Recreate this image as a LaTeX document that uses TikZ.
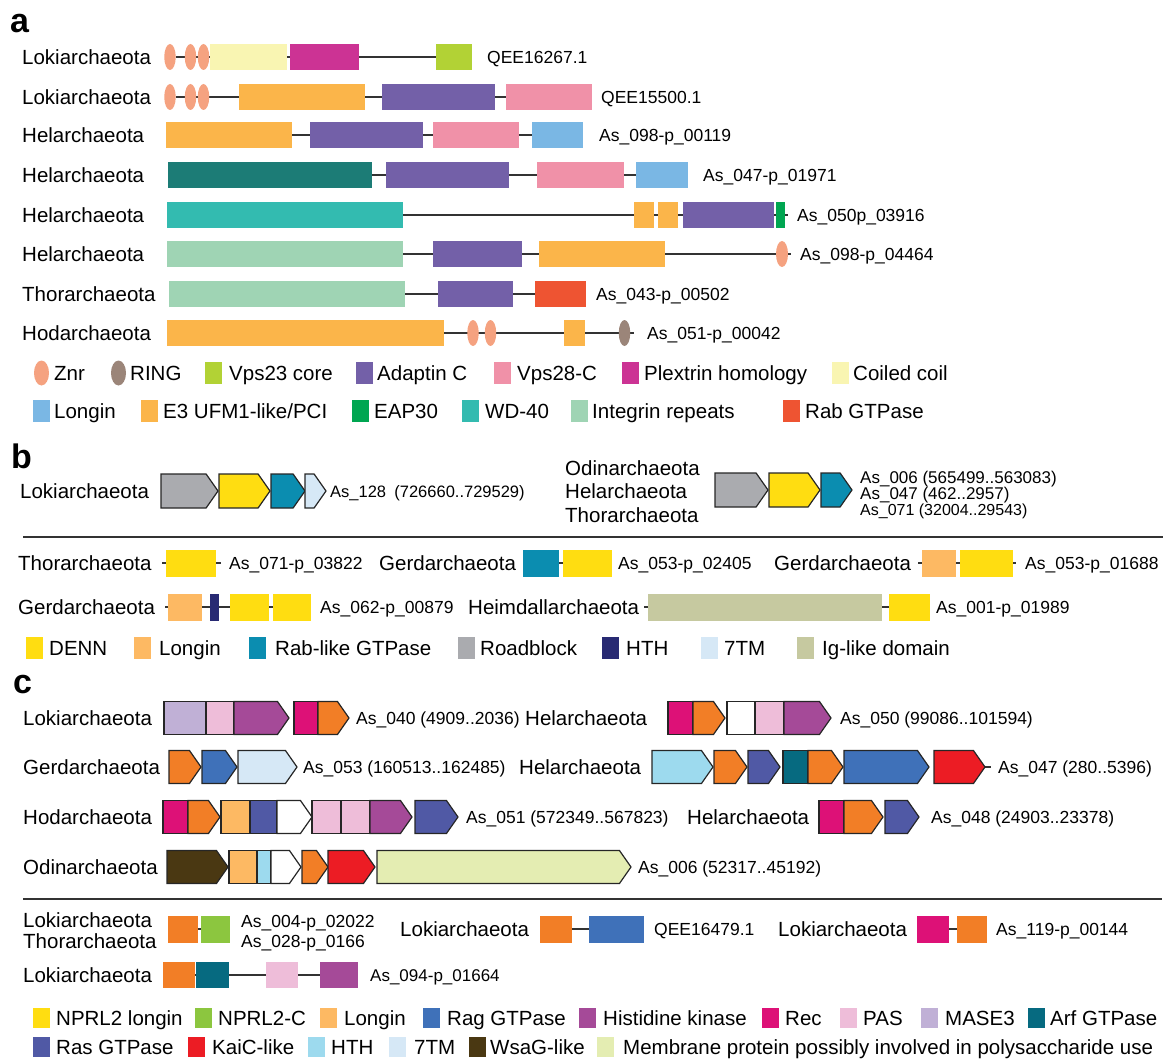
\documentclass[tikz,border=0pt]{standalone}
\usepackage{fontspec}
\setmainfont{Liberation Sans}
\usetikzlibrary{shapes.geometric, shapes.symbols, backgrounds}

\definecolor{cZnr}{RGB}{245,162,128}
\definecolor{cRing}{RGB}{155,133,121}
\definecolor{cVps23}{RGB}{178,210,53}
\definecolor{cAdap}{RGB}{115,96,168}
\definecolor{cVps28}{RGB}{240,145,168}
\definecolor{cPlex}{RGB}{204,51,148}
\definecolor{cCoil}{RGB}{249,245,178}
\definecolor{cLonA}{RGB}{122,183,228}
\definecolor{cE3}{RGB}{251,181,74}
\definecolor{cEap}{RGB}{0,166,81}
\definecolor{cWd}{RGB}{51,187,176}
\definecolor{cInt}{RGB}{159,212,180}
\definecolor{cRab}{RGB}{238,84,50}
\definecolor{cTeal}{RGB}{28,124,118}
\definecolor{cDenn}{RGB}{255,221,17}
\definecolor{cLon}{RGB}{253,185,99}
\definecolor{cRabl}{RGB}{11,141,176}
\definecolor{cRoad}{RGB}{170,171,175}
\definecolor{cHthB}{RGB}{40,42,115}
\definecolor{c7tm}{RGB}{214,232,246}
\definecolor{cIg}{RGB}{198,201,160}
\definecolor{cNprC}{RGB}{140,198,63}
\definecolor{cRag}{RGB}{63,113,185}
\definecolor{cHk}{RGB}{165,74,152}
\definecolor{cRec}{RGB}{221,17,119}
\definecolor{cPas}{RGB}{238,189,217}
\definecolor{cMase}{RGB}{192,176,214}
\definecolor{cArf}{RGB}{6,106,128}
\definecolor{cRas}{RGB}{80,89,165}
\definecolor{cKai}{RGB}{236,28,36}
\definecolor{cHthC}{RGB}{157,218,238}
\definecolor{cWsa}{RGB}{74,56,18}
\definecolor{cMem}{RGB}{228,237,178}
\definecolor{cOra}{RGB}{242,126,38}

\tikzset{
  dom/.style={rectangle, anchor=west, minimum height=26, inner sep=0, outer sep=0},
  oval/.style={ellipse, minimum width=11.5, minimum height=26, inner sep=0, outer sep=0},
  seg/.style={rectangle, draw=black!85, line width=1.2pt, anchor=west, minimum height=33, inner sep=0, outer sep=0},
  gene/.style={seg, signal, signal to=east, signal pointer angle=110},
  bb/.style={line width=1.5pt, draw=black!80},
  rule/.style={line width=2pt, draw=black!80},
  taxon/.style={anchor=west, inner sep=0, font=\fontsize{20.5}{24}\selectfont, text height=14.7pt, text depth=0pt},
  acc/.style={anchor=west, inner sep=0, font=\fontsize{17.5}{20}\selectfont, text height=12.6pt, text depth=0pt},
  key/.style={rectangle, anchor=west, minimum width=16.5, minimum height=22, inner sep=0, outer sep=0},
  panel/.style={anchor=base west, inner sep=0, font=\fontsize{34}{36}\selectfont\bfseries},
}

\begin{document}
\begin{tikzpicture}[x=1pt, y=-1pt]
\useasboundingbox (0,0) rectangle (1175,1059);

% ---------------- a ----------------
\node[panel] (pa) at (10,33) {a};

% Lokiarchaeota QEE16267.1
\node[taxon] (a1t) at (22,57) {Lokiarchaeota};
\node[oval, fill=cZnr] (a1z1) at (170,57) {};
\node[oval, fill=cZnr] (a1z2) at (190.5,57) {};
\node[oval, fill=cZnr] (a1z3) at (203.5,57) {};
\node[dom, fill=cCoil, minimum width=77] (a1cc) at (210,57) {};
\node[dom, fill=cPlex, minimum width=69] (a1ph) at (290,57) {};
\node[dom, fill=cVps23, minimum width=36] (a1vc) at (436,57) {};
\node[acc] (a1n) at (487,57) {QEE16267.1};

% Lokiarchaeota QEE15500.1
\node[taxon] (a2t) at (22,97) {Lokiarchaeota};
\node[oval, fill=cZnr] (a2z1) at (170,97) {};
\node[oval, fill=cZnr] (a2z2) at (190.5,97) {};
\node[oval, fill=cZnr] (a2z3) at (203.5,97) {};
\node[dom, fill=cE3, minimum width=126] (a2e3) at (239,97) {};
\node[dom, fill=cAdap, minimum width=113] (a2ad) at (382,97) {};
\node[dom, fill=cVps28, minimum width=86] (a2vp) at (506,97) {};
\node[acc] (a2n) at (601,97) {QEE15500.1};

% Helarchaeota
\node[taxon] (a3t) at (22,135) {Helarchaeota};
\node[dom, fill=cE3, minimum width=126] (a3e3) at (166,135) {};
\node[dom, fill=cAdap, minimum width=113] (a3ad) at (310,135) {};
\node[dom, fill=cVps28, minimum width=86] (a3vp) at (433,135) {};
\node[dom, fill=cLonA, minimum width=51] (a3lo) at (532,135) {};
\node[acc] (a3n) at (599,135) {As\_098-p\_00119};

\node[taxon] (a4t) at (22,175) {Helarchaeota};
\node[dom, fill=cTeal, minimum width=204] (a4te) at (168,175) {};
\node[dom, fill=cAdap, minimum width=123] (a4ad) at (386,175) {};
\node[dom, fill=cVps28, minimum width=87] (a4vp) at (537,175) {};
\node[dom, fill=cLonA, minimum width=52] (a4lo) at (636,175) {};
\node[acc] (a4n) at (703,175) {As\_047-p\_01971};

\node[taxon] (a5t) at (22,215) {Helarchaeota};
\node[dom, fill=cWd, minimum width=236] (a5wd) at (167,215) {};
\node[dom, fill=cE3, minimum width=20] (a5e1) at (634,215) {};
\node[dom, fill=cE3, minimum width=20] (a5e2) at (658,215) {};
\node[dom, fill=cAdap, minimum width=91] (a5ad) at (683,215) {};
\node[dom, fill=cEap, minimum width=9] (a5ea) at (776,215) {};
\coordinate (a5x) at (788,215);
\node[acc] (a5n) at (797,215) {As\_050p\_03916};

\node[taxon] (a6t) at (22,254) {Helarchaeota};
\node[dom, fill=cInt, minimum width=236] (a6in) at (167,254) {};
\node[dom, fill=cAdap, minimum width=89] (a6ad) at (433,254) {};
\node[dom, fill=cE3, minimum width=126] (a6e3) at (539,254) {};
\node[oval, fill=cZnr, minimum width=12] (a6z) at (782,254) {};
\coordinate (a6x) at (791,254);
\node[acc] (a6n) at (800,254) {As\_098-p\_04464};

% Thorarchaeota, Hodarchaeota
\node[taxon] (a7t) at (22,294) {Thorarchaeota};
\node[dom, fill=cInt, minimum width=236] (a7in) at (169,294) {};
\node[dom, fill=cAdap, minimum width=75] (a7ad) at (438,294) {};
\node[dom, fill=cRab, minimum width=51] (a7rb) at (535,294) {};
\node[acc] (a7n) at (596,294) {As\_043-p\_00502};

\node[taxon] (a8t) at (22,333) {Hodarchaeota};
\node[dom, fill=cE3, minimum width=277] (a8e3) at (167,333) {};
\node[oval, fill=cZnr] (a8z1) at (473,333) {};
\node[oval, fill=cZnr] (a8z2) at (490.5,333) {};
\node[dom, fill=cE3, minimum width=21] (a8e4) at (564,333) {};
\node[oval, fill=cRing] (a8rg) at (624.5,333) {};
\coordinate (a8x) at (634,333);
\node[acc] (a8n) at (647,333) {As\_051-p\_00042};

% Legend a
\node[oval, fill=cZnr, minimum width=15, minimum height=25] (ka1) at (41.5,373) {};
\node[taxon] at (54,373) {Znr};
\node[oval, fill=cRing, minimum width=15, minimum height=25] (ka2) at (118.5,373) {};
\node[taxon] at (130,373) {RING};
\node[key, fill=cVps23] (ka3) at (205,373) {};
\node[taxon] at (229,373) {Vps23 core};
\node[key, fill=cAdap] (ka4) at (356,373) {};
\node[taxon] at (377,373) {Adaptin C};
\node[key, fill=cVps28] (ka5) at (494,373) {};
\node[taxon] at (517,373) {Vps28-C};
\node[key, fill=cPlex] (ka6) at (622,373) {};
\node[taxon] at (644,373) {Plextrin homology};
\node[key, fill=cCoil] (ka7) at (832,373) {};
\node[taxon] at (853,373) {Coiled coil};

\node[key, fill=cLonA] (ka8) at (33,411) {};
\node[taxon] at (54,411) {Longin};
\node[key, fill=cE3] (ka9) at (141,411) {};
\node[taxon] at (163,411) {E3 UFM1-like/PCI};
\node[key, fill=cEap] (ka10) at (352,411) {};
\node[taxon] at (374,411) {EAP30};
\node[key, fill=cWd] (ka11) at (462,411) {};
\node[taxon] at (485,411) {WD-40};
\node[key, fill=cInt] (ka12) at (571,411) {};
\node[taxon] at (592,411) {Integrin repeats};
\node[key, fill=cRab] (ka13) at (783,411) {};
\node[taxon] at (805,411) {Rab GTPase};

% ---------------- b ----------------
\node[panel] (pb) at (11,468) {b};

\node[taxon] (b1t) at (20,491) {Lokiarchaeota};
\node[gene, fill=cRoad, minimum height=34, minimum width=57] (b1a) at (161,491) {};
\node[gene, fill=cDenn, minimum height=34, minimum width=51] (b1b) at (219,491) {};
\node[gene, fill=cRabl, minimum height=34, minimum width=34] (b1c) at (271,491) {};
\node[gene, fill=c7tm, minimum height=34, minimum width=21] (b1d) at (305,491) {};
\node[acc, font=\fontsize{16.5}{19}\selectfont] (b1n) at (330,491) {As\_128\enspace(726660..729529)};

\node[taxon] (b1u) at (565,468) {Odinarchaeota};
\node[taxon] (b1v) at (565,491.5) {Helarchaeota};
\node[taxon] (b1w) at (565,515) {Thorarchaeota};
\node[gene, fill=cRoad, minimum height=34, minimum width=53] (b1e) at (715,490) {};
\node[gene, fill=cDenn, minimum height=34, minimum width=51] (b1f) at (769,490) {};
\node[gene, fill=cRabl, minimum height=34, minimum width=31] (b1g) at (821,490) {};
\node[acc, font=\fontsize{17}{18}\selectfont] (b1x) at (860,477) {As\_006 (565499..563083)};
\node[acc, font=\fontsize{17}{18}\selectfont] (b1y) at (860,493) {As\_047 (462..2957)};
\node[acc, font=\fontsize{16}{18}\selectfont] (b1z) at (860,509) {As\_071 (32004..29543)};

\coordinate (r1a) at (23,537);
\coordinate (r1b) at (1163,537);
\draw[rule] (r1a) -- (r1b);

\node[taxon] (b2t) at (18,563) {Thorarchaeota};
\coordinate (b2p) at (162,563);
\coordinate (b2q) at (221,563);
\node[dom, fill=cDenn, minimum height=27, minimum width=50] (b2a) at (166,563) {};
\node[acc] (b2n) at (229,563) {As\_071-p\_03822};
\node[taxon] (b2u) at (379,563) {Gerdarchaeota};
\node[dom, fill=cRabl, minimum height=27, minimum width=36] (b2c) at (523,563) {};
\node[dom, fill=cDenn, minimum height=27, minimum width=49] (b2d) at (563,563) {};
\node[acc] (b2m) at (618,563) {As\_053-p\_02405};
\node[taxon] (b2v) at (774,563) {Gerdarchaeota};
\coordinate (b2r) at (918,563);
\coordinate (b2s) at (1016,563);
\node[dom, fill=cLon, minimum height=27, minimum width=34] (b2e) at (922,563) {};
\node[dom, fill=cDenn, minimum height=27, minimum width=53] (b2f) at (960,563) {};
\node[acc] (b2o) at (1025,563) {As\_053-p\_01688};

\node[taxon] (b3t) at (18,607) {Gerdarchaeota};
\coordinate (b3p) at (165,607);
\node[dom, fill=cLon, minimum height=27, minimum width=34] (b3a) at (168,607) {};
\node[dom, fill=cHthB, minimum height=27, minimum width=9] (b3b) at (210,607) {};
\node[dom, fill=cDenn, minimum height=27, minimum width=39] (b3c) at (230,607) {};
\node[dom, fill=cDenn, minimum height=27, minimum width=38] (b3d) at (273,607) {};
\node[acc] (b3n) at (320,607) {As\_062-p\_00879};
\node[taxon] (b3u) at (468,607) {Heimdallarchaeota};
\coordinate (b3r) at (644,607);
\node[dom, fill=cIg, minimum height=27, minimum width=234] (b3e) at (648,607) {};
\node[dom, fill=cDenn, minimum height=27, minimum width=41] (b3f) at (889,607) {};
\node[acc] (b3m) at (936,607) {As\_001-p\_01989};

% Legend b
\node[key, fill=cDenn] (kb1) at (26,648) {};
\node[taxon] at (49,648) {DENN};
\node[key, fill=cLon] (kb2) at (134,648) {};
\node[taxon] at (159,648) {Longin};
\node[key, fill=cRabl] (kb3) at (249,648) {};
\node[taxon] at (275,648) {Rab-like GTPase};
\node[key, fill=cRoad] (kb4) at (458,648) {};
\node[taxon] at (480,648) {Roadblock};
\node[key, fill=cHthB] (kb5) at (602,648) {};
\node[taxon] at (626,648) {HTH};
\node[key, fill=c7tm] (kb6) at (701,648) {};
\node[taxon] at (724,648) {7TM};
\node[key, fill=cIg] (kb7) at (797,648) {};
\node[taxon] at (822,648) {Ig-like domain};

% ---------------- c ----------------
\node[panel] (pc) at (13,693) {c};

\node[taxon] (c1t) at (23,718) {Lokiarchaeota};
\node[seg, fill=cMase, minimum width=42] (c1a) at (164,718) {};
\node[seg, fill=cPas, minimum width=28] (c1b) at (206,718) {};
\node[gene, fill=cHk, minimum width=55] (c1c) at (234,718) {};
\node[seg, fill=cRec, minimum width=24] (c1d) at (294,718) {};
\node[gene, fill=cOra, minimum width=31] (c1e) at (318,718) {};
\node[acc] (c1n) at (356,718) {As\_040 (4909..2036)};
\node[taxon] (c1u) at (525,718) {Helarchaeota};
\node[seg, fill=cRec, minimum width=25] (c1f) at (668,718) {};
\node[gene, fill=cOra, minimum width=32] (c1g) at (693,718) {};
\node[seg, fill=white, minimum width=28] (c1h) at (727,718) {};
\node[seg, fill=cPas, minimum width=29] (c1i) at (755,718) {};
\node[gene, fill=cHk, minimum width=47] (c1j) at (784,718) {};
\node[acc] (c1m) at (840,718) {As\_050 (99086..101594)};

\node[taxon] (c2t) at (23,767) {Gerdarchaeota};
\node[gene, fill=cOra, minimum width=32] (c2a) at (169,767) {};
\node[gene, fill=cRag, minimum width=35] (c2b) at (202,767) {};
\node[gene, fill=c7tm, minimum width=59] (c2c) at (238,767) {};
\node[acc] (c2n) at (303,767) {As\_053 (160513..162485)};
\node[taxon] (c2u) at (519,767) {Helarchaeota};
\node[gene, fill=cHthC, minimum width=61] (c2d) at (652,767) {};
\node[gene, fill=cOra, minimum width=33] (c2e) at (714,767) {};
\node[gene, fill=cRas, minimum width=32] (c2f) at (748,767) {};
\node[seg, fill=cArf, minimum width=25] (c2g) at (783,767) {};
\node[gene, fill=cOra, minimum width=35] (c2h) at (808,767) {};
\node[gene, fill=cRag, minimum width=85] (c2i) at (844,767) {};
\node[gene, fill=cKai, minimum width=51] (c2k) at (934,767) {};
\coordinate (c2x) at (991,767);
\node[acc] (c2m) at (998,767) {As\_047 (280..5396)};

\node[taxon] (c3t) at (23,817) {Hodarchaeota};
\node[seg, fill=cRec, minimum width=25] (c3a) at (163,817) {};
\node[gene, fill=cOra, minimum width=32] (c3b) at (188,817) {};
\node[seg, fill=cLon, minimum width=29] (c3c) at (221,817) {};
\node[seg, fill=cRas, minimum width=27] (c3d) at (250,817) {};
\node[gene, fill=white, minimum width=35] (c3e) at (277,817) {};
\node[seg, fill=cPas, minimum width=29] (c3f) at (312,817) {};
\node[seg, fill=cPas, minimum width=29] (c3g) at (341,817) {};
\node[gene, fill=cHk, minimum width=42] (c3h) at (370,817) {};
\node[gene, fill=cRas, minimum width=43] (c3i) at (415,817) {};
\node[acc] (c3n) at (466,817) {As\_051 (572349..567823)};
\node[taxon] (c3u) at (687,817) {Helarchaeota};
\node[seg, fill=cRec, minimum width=25] (c3j) at (819,817) {};
\node[gene, fill=cOra, minimum width=39] (c3k) at (844,817) {};
\node[gene, fill=cRas, minimum width=34] (c3l) at (885,817) {};
\node[acc] (c3m) at (931,817) {As\_048 (24903..23378)};

\node[taxon] (c4t) at (23,867) {Odinarchaeota};
\node[gene, fill=cWsa, minimum width=61] (c4a) at (167,867) {};
\node[seg, fill=cLon, minimum width=28] (c4b) at (229,867) {};
\node[seg, fill=cHthC, minimum width=14] (c4c) at (257,867) {};
\node[gene, fill=white, minimum width=30] (c4d) at (271,867) {};
\node[gene, fill=cOra, minimum width=26] (c4e) at (302,867) {};
\node[gene, fill=cKai, minimum width=47] (c4f) at (328,867) {};
\node[gene, fill=cMem, minimum width=254] (c4g) at (377,867) {};
\node[acc] (c4n) at (638,867) {As\_006 (52317..45192)};

\coordinate (r2a) at (23,899);
\coordinate (r2b) at (1162,899);
\draw[rule] (r2a) -- (r2b);

\node[taxon] (c5t) at (23,920) {Lokiarchaeota};
\node[taxon] (c5s) at (23,941) {Thorarchaeota};
\node[dom, fill=cOra, minimum height=27, minimum width=30] (c5a) at (168,929) {};
\node[dom, fill=cNprC, minimum height=27, minimum width=29] (c5b) at (201,929) {};
\node[acc] (c5n) at (241,921) {As\_004-p\_02022};
\node[acc] (c5o) at (241,941) {As\_028-p\_0166};
\node[taxon] (c5u) at (400,929) {Lokiarchaeota};
\node[dom, fill=cOra, minimum height=27, minimum width=32] (c5c) at (540,929) {};
\node[dom, fill=cRag, minimum height=27, minimum width=55] (c5d) at (589,929) {};
\node[acc] (c5m) at (654,929) {QEE16479.1};
\node[taxon] (c5v) at (778,929) {Lokiarchaeota};
\node[dom, fill=cRec, minimum height=27, minimum width=32] (c5e) at (917,929) {};
\node[dom, fill=cOra, minimum height=27, minimum width=30] (c5f) at (957,929) {};
\node[acc] (c5l) at (996,929) {As\_119-p\_00144};

\node[taxon] (c6t) at (23,975) {Lokiarchaeota};
\node[dom, fill=cOra, minimum width=32] (c6a) at (163,975) {};
\node[dom, fill=cArf, minimum width=33] (c6b) at (196,975) {};
\node[dom, fill=cPas, minimum width=32] (c6c) at (266,975) {};
\node[dom, fill=cHk, minimum width=38] (c6d) at (320,975) {};
\node[acc, font=\fontsize{17}{20}\selectfont] (c6n) at (370,975) {As\_094-p\_01664};

% Legend c
\node[key, minimum height=20, fill=cDenn] (kc1) at (33,1018) {};
\node[taxon] at (56,1018) {NPRL2 longin};
\node[key, minimum height=20, fill=cNprC] (kc2) at (195,1018) {};
\node[taxon] at (218,1018) {NPRL2-C};
\node[key, minimum height=20, fill=cLon] (kc3) at (320,1018) {};
\node[taxon] at (344,1018) {Longin};
\node[key, minimum height=20, fill=cRag] (kc4) at (423,1018) {};
\node[taxon] at (447,1018) {Rag GTPase};
\node[key, minimum height=20, fill=cHk] (kc5) at (579,1018) {};
\node[taxon] at (603,1018) {Histidine kinase};
\node[key, minimum height=20, fill=cRec] (kc6) at (762,1018) {};
\node[taxon] at (785,1018) {Rec};
\node[key, minimum height=20, fill=cPas] (kc7) at (840,1018) {};
\node[taxon] at (863,1018) {PAS};
\node[key, minimum height=20, fill=cMase] (kc8) at (921,1018) {};
\node[taxon] at (945,1018) {MASE3};
\node[key, minimum height=20, fill=cArf] (kc9) at (1028,1018) {};
\node[taxon] at (1050,1018) {Arf GTPase};

\node[key, minimum height=20, fill=cRas] (kc10) at (33,1047) {};
\node[taxon] at (56,1047) {Ras GTPase};
\node[key, minimum height=20, fill=cKai] (kc11) at (188,1047) {};
\node[taxon] at (212,1047) {KaiC-like};
\node[key, minimum height=20, fill=cHthC] (kc12) at (308,1047) {};
\node[taxon] at (331,1047) {HTH};
\node[key, minimum height=20, fill=c7tm] (kc13) at (389,1047) {};
\node[taxon] at (414,1047) {7TM};
\node[key, minimum height=20, fill=cWsa] (kc14) at (469,1047) {};
\node[taxon] at (490,1047) {WsaG-like};
\node[key, minimum height=20, fill=cMem] (kc15) at (597,1047) {};
\node[taxon] at (623,1047) {Membrane protein possibly involved in polysaccharide use};

% Backbones
\begin{scope}[on background layer]
\draw[bb] (a1z1) -- (a1vc);
\draw[bb] (a2z1) -- (a2vp);
\draw[bb] (a3e3) -- (a3lo);
\draw[bb] (a4te) -- (a4lo);
\draw[bb] (a5wd) -- (a5x);
\draw[bb] (a6in) -- (a6x);
\draw[bb] (a7in) -- (a7rb);
\draw[bb] (a8e3) -- (a8x);
\draw[bb] (b2p) -- (b2q);
\draw[bb] (b2c) -- (b2d);
\draw[bb] (b2r) -- (b2s);
\draw[bb] (b3p) -- (b3d);
\draw[bb] (b3r) -- (b3f);
\draw[bb] (c2k) -- (c2x);
\draw[bb] (c5a) -- (c5b);
\draw[bb] (c5c) -- (c5d);
\draw[bb] (c5e) -- (c5f);
\draw[bb] (c6a) -- (c6d);
\end{scope}
\end{tikzpicture}
\end{document}
